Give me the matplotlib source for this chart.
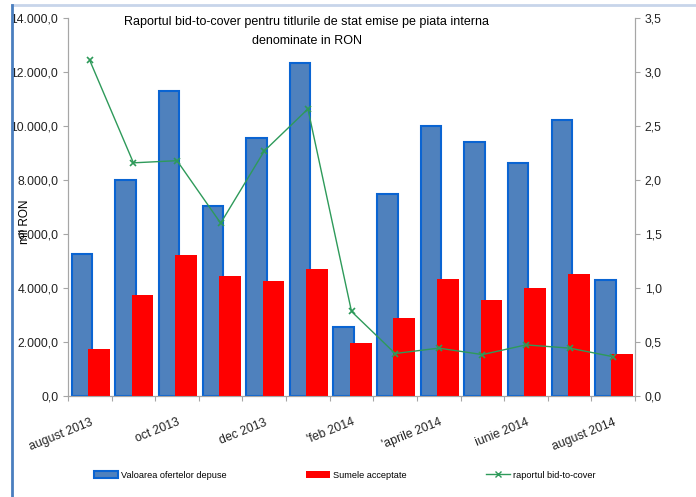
import numpy as np
import matplotlib
matplotlib.use("Agg")
import matplotlib.pyplot as plt
from matplotlib.lines import Line2D
from matplotlib.patches import Patch
from matplotlib.ticker import FuncFormatter, FixedLocator

plt.rcParams['font.family'] = ['Liberation Sans', 'DejaVu Sans']

# --- data ---
months = ["august 2013", "sept 2013", "oct 2013", "nov 2013", "dec 2013", "ian 2014",
          "'feb 2014", "martie 2014", "'aprile 2014", "mai 2014", "iunie 2014",
          "iulie 2014", "august 2014"]
oferte = [5250, 8020, 11320, 7020, 9550, 12330, 2550, 7480, 10020, 9430, 8620, 10230, 4300]
acceptate = [1720, 3740, 5220, 4430, 4240, 4680, 1960, 2880, 4340, 3530, 3990, 4500, 1560]
bid_to_cover = [3.11, 2.16, 2.18, 1.60, 2.27, 2.66, 0.78, 0.39, 0.44, 0.38, 0.47, 0.44, 0.36]

x = np.arange(len(months))

fig = plt.figure(figsize=(6.96, 4.97), dpi=100)
ax = fig.add_axes([0.0977, 0.2042, 0.8147, 0.7586])
ax2 = ax.twinx()

# bars: blue a bit left, red a bit right, red overlapping
ax.bar(x - 0.18, oferte, width=0.47, color='#4f81bd', edgecolor='#0a64d2', linewidth=1.5, zorder=2)
ax.bar(x + 0.21, acceptate, width=0.5, color='#ff0000', edgecolor='none', zorder=3)

ax2.plot(x, bid_to_cover, color='#2e9a5a', linewidth=1, marker='x', markersize=5,
         markeredgewidth=1.2, zorder=4)

# y axes
ax.set_ylim(0, 14000)
ax.set_yticks(np.arange(0, 14001, 2000))
ax.yaxis.set_major_formatter(FuncFormatter(lambda v, p: f"{v:,.1f}".replace(",", " ").replace(".", ",").replace(" ", ".")))
ax2.set_ylim(0, 3.5)
ax2.set_yticks(np.arange(0, 3.51, 0.5))
ax2.yaxis.set_major_formatter(FuncFormatter(lambda v, p: f"{v:.1f}".replace(".", ",")))

# x axis: ticks at group boundaries, labels every second month
ax.set_xlim(-0.5, len(months) - 0.5)
ax.xaxis.set_major_locator(FixedLocator(np.arange(-0.5, len(months), 1.0)))
ax.set_xticklabels([])
ax.xaxis.set_minor_locator(FixedLocator(x[::2]))
ax.set_xticklabels([months[i] for i in x[::2]], minor=True, rotation=22, ha='right',
                   rotation_mode='anchor', fontsize=8.8)
ax.tick_params(axis='x', which='minor', length=0, pad=15)

for a in (ax, ax2):
    a.spines['top'].set_visible(False)
    for s in a.spines.values():
        s.set_color('#a6a6a6')
    a.tick_params(colors='#a6a6a6', labelcolor='#222222', labelsize=8.8, length=3.5)
ax.tick_params(axis='x', which='minor', labelcolor='#222222')

fig.text(25 / 696, 1 - 222 / 497, "mil RON", rotation=90, ha='center', va='center', fontsize=8.5)

fig.text(307 / 696, 1 - 16 / 497,
         "Raportul bid-to-cover pentru titlurile de stat emise pe piata interna\ndenominate in RON",
         ha='center', va='top', fontsize=9, linespacing=1.75)

handles = [Patch(facecolor='#4f81bd', edgecolor='#0a64d2', linewidth=1.5),
           Patch(facecolor='#ff0000', edgecolor='none'),
           Line2D([], [], color='#2e9a5a', linewidth=1, marker='x', markersize=5)]
fig.legend(handles, ["Valoarea ofertelor depuse", "Sumele acceptate", "raportul bid-to-cover"],
           loc='center', bbox_to_anchor=(345 / 696, 1 - 475 / 497), ncol=3, frameon=False,
           fontsize=6.6, columnspacing=8.6, handlelength=2.6, handletextpad=0.4)

# chart-area border (top and left edges are visible in the reference)
fig.add_artist(Line2D([12 / 696, 1], [1 - 5 / 497, 1 - 5 / 497], color='#c8d5ea', linewidth=2,
                      transform=fig.transFigure))
fig.add_artist(Line2D([12 / 696, 12 / 696], [0, 1 - 5 / 497], color='#4a7ebf', linewidth=2,
                      transform=fig.transFigure))

fig.savefig("out.png", dpi=100)
